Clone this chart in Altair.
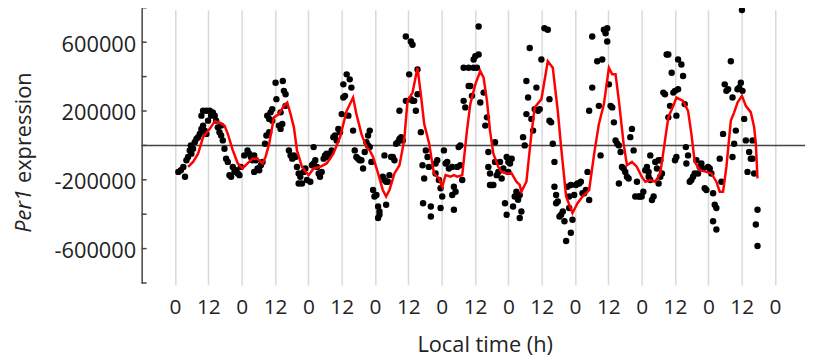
import altair as alt
import pandas as pd

# ---- data (hours, Per1 expression) ----
time_h = [
    1.2, 2.1, 3.0, 3.6, 4.1, 4.7, 5.3, 5.9, 5.7, 6.5, 7.1, 7.7, 8.3, 8.9, 9.5, 10.1, 10.7, 11.3, 9.5, 10.1,
    11.3, 12.5, 13.6, 13.0, 11.9, 14.3, 14.8, 15.4, 16.0, 16.6, 16.6, 17.2, 17.8, 18.4, 19.0, 19.6, 20.2, 20.8, 21.4, 22.0,
    22.6, 23.2, 23.7, 24.9, 26.1, 26.7, 27.3, 27.9, 28.5,
    28.5, 29.1, 29.7, 30.3, 30.9, 31.5, 32.4, 32.9, 33.9, 33.2, 33.9, 34.4, 35.0, 35.0, 36.2, 38.8, 39.2, 39.8, 36.5, 39.8,
    38.0, 37.4, 38.0, 38.6, 41.0, 41.6, 42.2, 42.8, 43.3, 43.9, 44.5, 45.1, 44.5, 45.7, 46.3, 46.9, 47.5, 48.7, 49.3, 49.9,
    49.9, 50.5, 51.1, 51.7, 52.2, 52.8, 53.5, 54.0, 54.6, 55.2, 55.8, 56.4, 57.0, 57.6, 58.2,
    58.8, 59.4, 60.0, 60.6, 61.2, 60.6, 61.8, 62.9, 63.5, 62.4, 64.1, 64.7, 65.3, 65.9, 66.5, 67.1, 67.7, 68.3, 68.9, 69.5,
    70.1, 69.5, 70.1, 70.7, 71.3, 71.8, 72.5, 73.1, 73.6, 73.1, 73.6, 75.4, 74.8, 75.4, 76.0, 76.6, 77.2, 76.0, 77.8, 78.4,
    79.0, 79.6, 80.2, 80.8, 81.4, 82.0, 80.8, 83.1, 84.3, 84.9, 85.5, 86.1, 86.7, 87.3, 87.3, 83.1, 84.9, 85.5, 88.5, 89.1,
    89.7, 89.3,
    90.3, 90.9, 91.4, 92.1, 92.1, 93.8, 94.4, 93.8, 95.0, 95.6, 96.2, 95.6, 96.8, 97.4, 98.0, 98.6, 99.8, 100.4, 99.8, 101.0,
    100.4, 101.6, 102.1, 102.7, 102.7, 103.4, 103.9, 104.5, 103.9, 105.7, 107.5, 108.7, 105.7, 106.3, 106.9, 107.5, 108.1, 109.3, 109.3, 109.9,
    111.1, 111.7, 112.3, 112.8, 112.8, 113.4, 113.4, 114.0, 114.6, 115.2, 115.2, 115.8, 116.4, 117.0, 117.6, 118.2, 118.8, 119.4, 119.4, 120.0,
    120.6, 121.2, 120.0, 121.7, 122.3, 122.9, 123.5, 124.1, 124.7, 124.1, 125.3, 125.9, 126.5, 127.1, 126.5, 127.7, 128.3, 128.9, 129.5, 130.1,
    130.7, 131.3, 131.9, 133.0, 134.2, 134.8, 134.8, 135.4, 136.0, 136.6, 136.6, 137.2, 137.2, 137.8, 138.4, 139.0, 139.6, 140.2, 140.8, 141.3,
    141.9, 142.5, 143.1, 141.9, 142.5, 143.7, 144.3, 144.9, 145.5, 146.1, 146.7, 147.3, 147.9, 148.5, 149.1, 150.2, 150.2,
    149.1, 152.0, 152.6, 153.2, 153.8, 154.4, 155.0, 155.6, 155.6, 156.2, 156.8, 157.4, 158.0, 158.6, 159.2, 159.8, 160.4, 160.9, 161.5, 162.1,
    162.7, 163.3, 163.9, 164.5, 165.1, 159.8, 165.7, 166.3, 166.9, 167.4, 168.0, 168.6, 169.3, 169.9, 170.5, 171.1, 170.5, 171.1, 171.7, 172.3,
    172.9, 173.5, 174.1, 174.7, 174.1, 174.7, 175.3, 175.8, 176.4, 177.0, 177.6, 177.6, 178.2, 178.8, 179.4, 180.0, 180.5, 181.1,
    180.0, 180.5, 181.1, 182.3, 182.9, 183.5, 183.9, 184.7, 184.1, 185.3, 185.9, 186.5, 187.1, 187.7, 188.3, 188.9, 189.5, 190.1, 190.7, 191.3,
    191.9, 192.5, 193.1, 193.7, 194.3, 194.9, 193.7, 194.9, 196.1, 196.7, 197.3, 197.9, 198.5, 199.1, 200.1, 200.7, 200.7, 201.3, 201.9, 202.5,
    203.1, 203.7, 204.3, 204.1, 204.9, 205.5, 206.1, 206.7, 207.3, 207.9, 207.9, 208.5, 209.1, 209.7, 209.7,
]
per1 = [
    -154000, -144000, -125000, -182000, -86000, -67000, -29000, -48000, 0, -19000, 19000, 38000, 48000, 67000, 96000, 115000, 86000, 67000, 173000, 201000,
    201000, 201000, 192000, 173000, 144000, 173000, 144000, 105000, 77000, 115000, 58000, 29000, -19000, -77000, -96000, -173000, -182000, -125000, -154000, -144000,
    -163000, -173000, -125000, -58000, -29000, -48000, -67000, -86000, -154000,
    -58000, -86000, -134000, -144000, -115000, -96000, 10000, 58000, 77000, 173000, 154000, 192000, 211000, 144000, 364000, 374000, 317000, 297000, 269000, 230000,
    192000, 115000, 96000, 125000, -29000, -58000, -77000, -58000, -67000, -125000, -163000, -182000, -221000, -221000, -154000, -134000, -201000, -211000, -115000, -10000,
    -105000, -86000, -125000, -163000, -182000, -154000, -77000, -58000, -48000, -67000, -48000, -29000, 48000, 58000, 29000,
    96000, 77000, 182000, 278000, 288000, 355000, 413000, 384000, 336000, 173000, 86000, -29000, -67000, -77000, -86000, -86000, -134000, -38000, 19000, 58000,
    86000, 0, -10000, -96000, -259000, -297000, -288000, -355000, -384000, -422000, -403000, -58000, -182000, -201000, -211000, -211000, -173000, -345000, -67000, -67000,
    -86000, 10000, 19000, 38000, 48000, 29000, 201000, 259000, 413000, 269000, 259000, 259000, 201000, 297000, 441000, 633000, 604000, 585000, 77000, -115000,
    -192000, -336000,
    -29000, -67000, -125000, -355000, -413000, -105000, -86000, -163000, -201000, -249000, -297000, -364000, -29000, -105000, -96000, -134000, -125000, -240000, -288000, -269000,
    -374000, -125000, -10000, 0, -115000, -201000, 259000, 221000, 451000, 451000, 451000, 451000, 345000, 345000, 288000, 499000, 518000, 528000, 691000, 249000,
    307000, 115000, 163000, -38000, -125000, -163000, -230000, -230000, -230000, 19000, -96000, -173000, -154000, -96000, -192000, -134000, -336000, -403000, -67000, -96000,
    -105000, -77000, -154000, -355000, -297000, -269000, -316000, -288000, -384000, -422000, 48000, 0, 374000, 278000, 182000, 566000, 154000, 86000, 211000, 336000,
    201000, 211000, 499000, 681000, 672000, 269000, 144000, 134000, 10000, -96000, -240000, -288000, -336000, -326000, -413000, -403000, -384000, -441000, -556000, -240000,
    -297000, -508000, -432000, -364000, -230000, -288000, -230000, -221000, -221000, -211000, -278000, -278000, -259000, -154000, 201000, 336000, 633000,
    -317000, 489000, 230000, -58000, 499000, 672000, 652000, 604000, 681000, 355000, 230000, 221000, 134000, 29000, 10000, 0, -38000, -125000, -134000, -154000,
    -182000, -192000, 48000, 96000, -29000, -221000, -297000, -211000, -297000, -297000, -297000, -269000, -144000, -125000, -154000, -58000, -182000, -201000, -317000, -297000,
    -96000, -134000, -86000, -86000, -221000, -182000, -163000, 307000, 297000, 528000, 528000, 163000, 230000, 422000, 307000, -86000, -67000, 499000,
    317000, 173000, 326000, 470000, 403000, 240000, -10000, -58000, -105000, -211000, -201000, -182000, -163000, -86000, -163000, -125000, -105000, -134000, -249000, -259000,
    -125000, -134000, -163000, -278000, -345000, -364000, -441000, -489000, -77000, -211000, 67000, 355000, 317000, 326000, 489000, 278000, -67000, 10000, 86000, 326000,
    336000, 364000, 317000, 787000, 154000, 29000, -154000, -38000, -77000, 29000, -77000, -163000, -460000, -374000, -585000,
]

trend_h = [
    4.7, 6.5, 8.3, 10.1, 12.5, 14.3, 16.0, 17.8, 19.0, 20.8, 22.6, 24.3, 26.1, 27.9, 29.7, 31.5, 32.6, 33.9, 35.6, 37.4,
    39.2, 40.4, 41.6, 42.8, 43.9, 45.7, 48.1, 49.9, 52.2, 54.6, 57.0, 59.4, 61.8, 64.1, 65.3, 67.1, 68.9, 70.1, 71.3, 73.1,
    74.8, 76.0, 77.2, 79.0, 80.8, 82.5, 83.7, 85.5, 87.3, 88.5, 89.7, 91.5, 93.2, 95.0, 96.2, 97.4, 99.2, 100.4, 101.6, 103.4,
    105.1, 106.3, 108.1, 109.9, 111.1, 112.3, 113.4, 114.6, 116.4, 117.6, 119.4, 121.2, 122.9, 124.1, 124.7, 126.5, 128.3, 129.5, 131.9, 134.2,
    136.0, 137.8, 139.0, 140.8, 143.1, 144.9, 146.7, 149.1, 150.9, 152.6, 154.4, 156.2, 157.4, 158.6, 159.8, 161.5, 162.7, 164.5, 166.3, 168.0,
    169.3, 171.1, 172.9, 174.7, 176.4, 177.6, 179.4, 180.5, 182.9, 184.7, 185.9, 187.1, 188.9, 191.3, 193.1, 194.9, 196.1, 197.3, 198.5, 200.1,
    201.3, 202.5, 204.1, 205.5, 207.3, 208.5, 209.1, 209.7,
]
trend_v = [
    -125000, -96000, -48000, 48000, 96000, 140000, 134000, 115000, 67000, -29000, -105000, -134000, -105000, -77000, -77000, -105000, -67000, 10000, 163000, 182000,
    230000, 249000, 182000, 105000, -29000, -125000, -173000, -134000, -125000, -105000, -48000, 48000, 201000, 278000, 182000, 67000, -10000, -29000, -67000, -163000,
    -259000, -297000, -259000, -163000, -115000, 29000, 259000, 307000, 451000, 297000, 125000, 10000, -163000, -192000, -240000, -173000, -182000, -173000, -182000, -173000,
    86000, 240000, 355000, 432000, 393000, 259000, 86000, -48000, -125000, -154000, -163000, -163000, -211000, -230000, -269000, -211000, 67000, 221000, 269000, 489000,
    451000, 201000, -10000, -297000, -393000, -336000, -297000, -259000, -48000, 125000, 240000, 451000, 413000, 413000, 259000, 10000, -115000, -96000, -125000, -182000,
    -211000, -201000, -211000, -163000, 29000, 163000, 230000, 278000, 259000, 201000, 67000, -96000, -144000, -154000, -163000, -211000, -269000, -269000, -125000, 144000,
    192000, 249000, 288000, 230000, 192000, 105000, 10000, -192000,
]

x_ticks = [0, 12, 24, 36, 48, 60, 72, 84, 96, 108, 120, 132, 144, 156, 168, 180, 192, 204, 216]
y_ticks = [-800000, -600000, -400000, -200000, 0, 200000, 400000, 600000, 800000]
y_labels = [-600000, -200000, 200000, 600000]

W, H = 670, 276
FONT = "Open Sans"
INK = "#222222"

pts = pd.DataFrame({"h": time_h, "v": per1})
trend = pd.DataFrame({"h": trend_h, "v": trend_v})

xs = alt.Scale(domain=[0, 216], range=[33.7, 639.7])
ys = alt.Scale(domain=[-800000, 800000], range=[276, -2])

xaxis = alt.Axis(values=x_ticks, labelExpr="datum.value % 24 == 0 ? '0' : '12'",
                 grid=True, gridColor="#d9d9d9", gridWidth=1.5, domain=False,
                 ticks=False, tickSize=0, labelFont=FONT, labelFontSize=21,
                 labelColor=INK, labelPadding=14, title=None,
                 labelFlush=False, labelOverlap=False)
yaxis = alt.Axis(values=y_labels, labelExpr="'' + datum.value", title=None,
                 domainColor="#444444", domainWidth=1.5, ticks=False, tickSize=0,
                 grid=False, labelFont=FONT, labelFontSize=22, labelColor=INK,
                 labelPadding=6, labelOffset=2)

zero = alt.Chart(pd.DataFrame({"v": [0]})).mark_rule(color="#444444", strokeWidth=1.5).encode(
    y=alt.Y("v:Q", scale=ys, axis=yaxis), x=alt.value(0), x2=alt.value(W))

yt = alt.Chart(pd.DataFrame({"v": y_ticks})).mark_rule(color="#444444", strokeWidth=1.5).encode(
    y=alt.Y("v:Q", scale=ys, axis=yaxis), x=alt.value(0), x2=alt.value(5))

dots = alt.Chart(pts).mark_circle(size=42, color="black", opacity=1).encode(
    x=alt.X("h:Q", scale=xs, axis=xaxis), y=alt.Y("v:Q", scale=ys, axis=yaxis))

line = alt.Chart(trend).mark_line(color="#ff0000", strokeWidth=2.5).encode(
    x=alt.X("h:Q", scale=xs, axis=xaxis), y=alt.Y("v:Q", scale=ys, axis=yaxis))

t_per = alt.Chart(pd.DataFrame({"t": ["Per1"]})).mark_text(
    angle=270, align="right", baseline="middle", font=FONT, fontSize=22,
    fontStyle="italic", color=INK).encode(text="t:N", x=alt.value(-119), y=alt.value(181))
t_expr = alt.Chart(pd.DataFrame({"t": ["expression"]})).mark_text(
    angle=270, align="left", baseline="middle", font=FONT, fontSize=22,
    color=INK).encode(text="t:N", x=alt.value(-119), y=alt.value(175))
t_x = alt.Chart(pd.DataFrame({"t": ["Local time (h)"]})).mark_text(
    align="center", baseline="alphabetic", font=FONT, fontSize=22,
    color=INK).encode(text="t:N", x=alt.value(347), y=alt.value(346))

chart = alt.layer(zero, yt, dots, line, t_per, t_expr, t_x).properties(
    width=W, height=H,
    autosize=alt.AutoSizeParams(type="none"),
    padding={"left": 135, "top": 0, "right": 0, "bottom": 79},
    background="white",
).configure_view(stroke=None)

chart.save("out.html", embed_options={"renderer": "svg", "actions": False})
